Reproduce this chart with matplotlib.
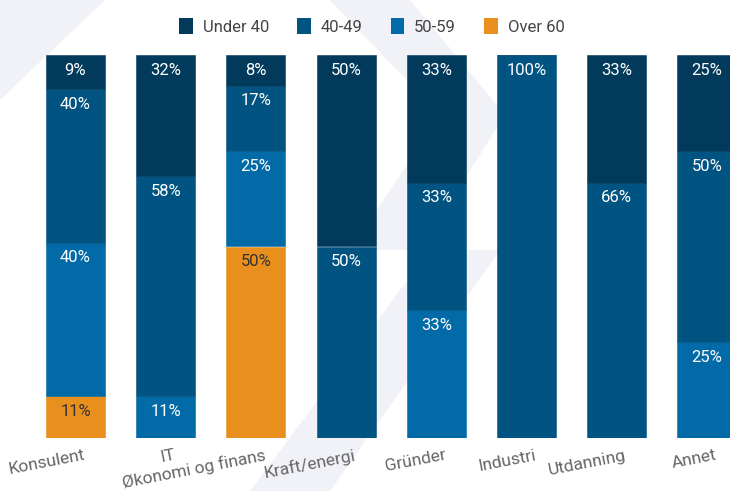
#!/usr/bin/env python3
"""Stacked 100% bar chart: age groups per sector."""

import matplotlib

matplotlib.use("Agg")
import matplotlib.pyplot as plt
import matplotlib.transforms as mtransforms
import numpy as np
from matplotlib.patches import Patch, Polygon

categories = [
    "Konsulent",
    "IT",
    "Økonomi og finans",
    "Kraft/energi",
    "Gründer",
    "Industri",
    "Utdanning",
    "Annet",
]
series_names = ["Under 40", "40-49", "50-59", "Over 60"]
under_40 = [9, 32, 8, 50, 33, 0, 33, 25]
age_40_49 = [40, 58, 17, 50, 33, 100, 66, 50]
age_50_59 = [40, 11, 25, 0, 33, 0, 0, 25]
over_60 = [11, 0, 50, 0, 0, 0, 0, 0]

COLORS = ["#023a5c", "#015381", "#016aa7", "#e88f1e"]
LABEL_COLORS = ["white", "white", "white", "#333333"]
WATERMARK = "#f0f2f7"

W, H = 730, 491
BAR_TOP, BAR_BOTTOM = 55, 438
FIRST_CENTER, STEP = 75.5, 90.2

plt.rcParams["font.family"] = ["Roboto", "DejaVu Sans"]


def _px(points):
    return [(x / W, 1 - y / H) for x, y in points]


def main() -> int:
    fig = plt.figure(figsize=(W / 100, H / 100), dpi=100)

    # faint watermark shapes in the background
    for shape in (
        [(0, 0), (105, 0), (0, 100)],
        [(330, 0), (410, 0), (505, 115), (420, 250), (350, 250), (440, 115)],
        [(250, 491), (330, 491), (500, 250), (430, 250)],
    ):
        fig.patches.append(
            Polygon(_px(shape), closed=True, transform=fig.transFigure,
                    facecolor=WATERMARK, edgecolor="none", zorder=-5)
        )

    ax = fig.add_axes([0, 1 - BAR_BOTTOM / H, 1, (BAR_BOTTOM - BAR_TOP) / H])
    ax.set_facecolor("none")
    ax.set_zorder(1)
    ax.set_xlim(-FIRST_CENTER / STEP, (W - FIRST_CENTER) / STEP)
    ax.set_ylim(0, 1)

    data = np.array([under_40, age_40_49, age_50_59, over_60], dtype=float)
    shares = data / data.sum(axis=0)
    x = np.arange(len(categories))
    width = 59 / STEP

    # stack from the bottom: Over 60 first, Under 40 on top
    bottom = np.zeros(len(categories))
    tops = {}
    for idx in range(len(series_names) - 1, -1, -1):
        ax.bar(x, shares[idx], width, bottom=bottom, color=COLORS[idx],
               edgecolor=COLORS[idx], linewidth=0.4, zorder=2)
        tops[idx] = bottom + shares[idx]
        bottom = bottom + shares[idx]

    for idx in range(len(series_names)):
        for i in x:
            if data[idx, i] <= 0:
                continue
            ax.annotate(
                f"{int(data[idx, i])}%",
                (i, tops[idx][i]),
                xytext=(0, -11),
                textcoords="offset points",
                ha="center",
                va="center",
                fontsize=12,
                color=LABEL_COLORS[idx],
                zorder=3,
            )

    for spine in ax.spines.values():
        spine.set_visible(False)
    ax.set_yticks([])
    ax.set_xticks(x)
    ax.set_xticklabels(categories, rotation=11, ha="right",
                       rotation_mode="anchor", fontsize=12.5, color="#666666")
    ax.tick_params(axis="x", length=0, pad=7)
    shift = mtransforms.ScaledTranslation(8 / 100, 0, fig.dpi_scale_trans)
    for lab in ax.get_xticklabels():
        lab.set_transform(lab.get_transform() + shift)

    handles = [Patch(facecolor=c, edgecolor="none") for c in COLORS]
    fig.legend(
        handles,
        series_names,
        loc="upper center",
        bbox_to_anchor=(372 / W, 1 - 3 / H),
        ncol=4,
        frameon=False,
        fontsize=12,
        labelcolor="#444444",
        handlelength=0.8,
        handleheight=1.1,
        handletextpad=0.6,
        columnspacing=1.7,
    )

    fig.savefig("out.png", dpi=100)
    plt.close(fig)
    return 0


if __name__ == "__main__":
    raise SystemExit(main())
